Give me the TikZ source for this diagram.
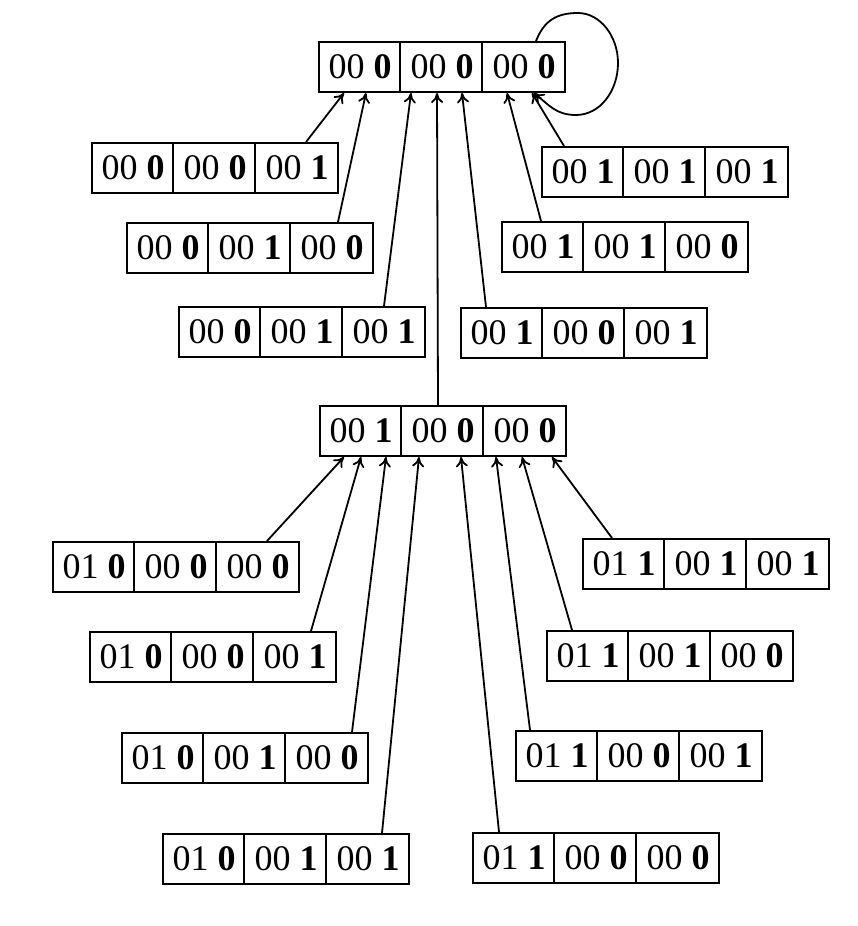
\documentclass[tikz,border=0pt]{standalone}
\usepackage{fontspec}
\setmainfont{Liberation Serif}
\usepackage{tikz}
\usetikzlibrary{arrows.meta}

% one state: name, position, first pair, three bits
\newcommand{\tribox}[6]{%
  \node[state] (#1) at (#2) {\makebox[82pt]{#3 \textbf{#4}}\makebox[82pt]{00 \textbf{#5}}\makebox[82pt]{00 \textbf{#6}}};
  \draw[boxline] ([xshift=82pt]#1.north west) -- ([xshift=82pt]#1.south west);
  \draw[boxline] ([xshift=164pt]#1.north west) -- ([xshift=164pt]#1.south west);
}

\begin{document}
\begin{tikzpicture}[x=1pt,y=-1pt,
  state/.style={draw,line width=2pt,inner sep=0pt,minimum width=246pt,minimum height=50pt,
    font=\fontsize{36}{40}\selectfont},
  boxline/.style={line width=2pt},
  arr/.style={-{To[length=10pt,width=12pt]},line width=1.8pt}]
\useasboundingbox (0,0) rectangle (857,926);

\tribox{T}{442,67}{00}{0}{0}{0}
\tribox{L1}{215,168}{00}{0}{0}{1}
\tribox{L2}{250,248}{00}{0}{1}{0}
\tribox{L3}{302,332}{00}{0}{1}{1}
\tribox{R1}{665,172}{00}{1}{1}{1}
\tribox{R2}{625,247}{00}{1}{1}{0}
\tribox{R3}{584,333}{00}{1}{0}{1}
\tribox{M}{443,431}{00}{1}{0}{0}
\tribox{B1}{176,567}{01}{0}{0}{0}
\tribox{B2}{213,657}{01}{0}{0}{1}
\tribox{B3}{245,758}{01}{0}{1}{0}
\tribox{B4}{286,859}{01}{0}{1}{1}
\tribox{C1}{706,564}{01}{1}{1}{1}
\tribox{C2}{670,656}{01}{1}{1}{0}
\tribox{C3}{639,756}{01}{1}{0}{1}
\tribox{C4}{596,858}{01}{1}{0}{0}

% into the top state
\draw[arr] ([xshift=215pt]L1.north west) -- ([xshift=26pt]T.south west);
\draw[arr] ([xshift=212pt]L2.north west) -- ([xshift=48pt]T.south west);
\draw[arr] ([xshift=206pt]L3.north west) -- ([xshift=93pt]T.south west);
\draw[arr] ([xshift=119pt]M.north west) -- ([xshift=119pt]T.south west);
\draw[arr] ([xshift=26pt]R3.north west) -- ([xshift=144pt]T.south west);
\draw[arr] ([xshift=40pt]R2.north west) -- ([xshift=189pt]T.south west);
\draw[arr] ([xshift=23pt]R1.north west) -- ([xshift=214pt]T.south west);
% self loop
\draw[arr] ([xshift=218pt]T.north west) .. controls +(8,-20) and +(-22,0) .. ++(42,-28)
  .. controls +(22,0) and +(0,-27) .. ++(40,50)
  .. controls +(0,28) and +(24,0) .. ++(-42,52)
  .. controls +(-20,0) and +(15,12) .. ([xshift=216pt]T.south west);

% into the middle state
\draw[arr] ([xshift=215pt]B1.north west) -- ([xshift=25pt]M.south west);
\draw[arr] ([xshift=222pt]B2.north west) -- ([xshift=42pt]M.south west);
\draw[arr] ([xshift=231pt]B3.north west) -- ([xshift=67pt]M.south west);
\draw[arr] ([xshift=220pt]B4.north west) -- ([xshift=100pt]M.south west);
\draw[arr] ([xshift=27pt]C4.north west) -- ([xshift=142pt]M.south west);
\draw[arr] ([xshift=15pt]C3.north west) -- ([xshift=177pt]M.south west);
\draw[arr] ([xshift=26pt]C2.north west) -- ([xshift=203pt]M.south west);
\draw[arr] ([xshift=30pt]C1.north west) -- ([xshift=233pt]M.south west);
\end{tikzpicture}
\end{document}
